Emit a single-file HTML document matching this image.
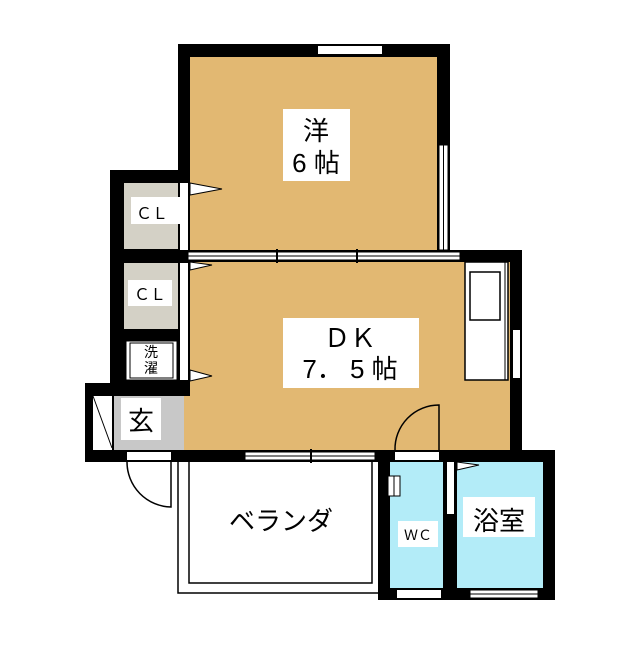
<!DOCTYPE html>
<html><head><meta charset="utf-8"><style>
body{margin:0;background:#fff}
svg text{font-family:"Liberation Sans","Noto Sans CJK JP",sans-serif;fill:#000}
</style></head><body>
<svg width="640" height="640" viewBox="0 0 640 640" xmlns="http://www.w3.org/2000/svg">
<!-- 洋 room -->
<rect x="178" y="44" width="272" height="218" fill="#000"/>
<rect x="190" y="57" width="247" height="193" fill="#e2b872"/>
<rect x="318" y="46" width="64" height="8" fill="#fff"/>
<rect x="439" y="145" width="9" height="105" fill="#fff" stroke="#000" stroke-width="1"/>
<line x1="443.5" y1="145" x2="443.5" y2="250" stroke="#000"/>
<!-- closets column -->
<rect x="110" y="170" width="80" height="220" fill="#000"/>
<rect x="124" y="183" width="54" height="66" fill="#d4d1c6"/>
<rect x="124" y="263" width="54" height="66" fill="#d4d1c6"/>
<rect x="126" y="341" width="51" height="39" fill="#fff" stroke="#000" stroke-width="1"/>
<rect x="130" y="343" width="43" height="35" fill="#fff" stroke="#000" stroke-width="1"/>
<rect x="180" y="183" width="8" height="67" fill="#fff"/>
<rect x="180" y="263" width="8" height="117" fill="#fff"/>
<!-- DK -->
<rect x="190" y="250" width="332" height="212" fill="#000"/>
<rect x="190" y="262" width="320" height="188" fill="#e2b872"/>
<rect x="188" y="252" width="272" height="8" fill="#fff" stroke="#000" stroke-width="1"/>
<line x1="188" y1="256" x2="460" y2="256" stroke="#000"/>
<line x1="277" y1="249" x2="277" y2="263" stroke="#000" stroke-width="2"/>
<line x1="357" y1="249" x2="357" y2="263" stroke="#000" stroke-width="2"/>
<rect x="465" y="262" width="43" height="118" fill="#fff" stroke="#000" stroke-width="1.5"/>
<line x1="505" y1="262" x2="505" y2="380" stroke="#000"/>
<rect x="470" y="272" width="30" height="48" fill="#fff" stroke="#000" stroke-width="1.5"/>
<rect x="513" y="330" width="7" height="48" fill="#fff"/>
<!-- door triangles -->
<polygon points="190,183 222,189 190,195" fill="#fff" stroke="#000"/>
<polygon points="190,262 212,265 190,270" fill="#fff" stroke="#000"/>
<polygon points="190,370 212,376 190,381" fill="#fff" stroke="#000"/>
<!-- entrance -->
<rect x="85" y="383" width="105" height="79" fill="#000"/>
<rect x="114" y="396" width="70" height="54" fill="#c8c8c8"/>
<rect x="93" y="396" width="19" height="54" fill="#fff"/>
<line x1="93" y1="396" x2="112" y2="448" stroke="#000"/>
<rect x="184" y="396" width="6" height="54" fill="#e2b872"/>
<!-- bottom wall -->
<rect x="85" y="450" width="470" height="12" fill="#000"/>
<rect x="127" y="452" width="44" height="8" fill="#fff"/>
<path d="M171 462 L171 507 A45 45 0 0 1 127 462" fill="none" stroke="#000" stroke-width="1.5"/>
<rect x="245" y="452" width="130" height="8" fill="#fff" stroke="#000" stroke-width="1"/>
<line x1="245" y1="456" x2="375" y2="456" stroke="#000"/>
<line x1="311" y1="449" x2="311" y2="463" stroke="#000" stroke-width="2"/>
<!-- veranda -->
<path d="M178 462 V593 H378" fill="none" stroke="#000" stroke-width="1.5"/>
<path d="M189 462 V583 H372 V462" fill="none" stroke="#000" stroke-width="1.5"/>
<!-- WC & bath -->
<rect x="378" y="450" width="177" height="150" fill="#000"/>
<rect x="390" y="462" width="53" height="126" fill="#b3ecf8"/>
<rect x="457" y="462" width="86" height="126" fill="#b3ecf8"/>
<rect x="395" y="452" width="44" height="8" fill="#fff"/>
<path d="M439 450 L439 405 A44 44 0 0 0 395 450" fill="none" stroke="#000" stroke-width="1.5"/>
<rect x="447" y="462" width="7" height="52" fill="#fff"/>
<polygon points="457,462 479,465 457,470" fill="#fff" stroke="#000"/>
<rect x="388" y="476" width="12" height="20" fill="#fff" stroke="#000"/>
<line x1="394" y1="476" x2="394" y2="496" stroke="#000"/>
<rect x="397" y="590" width="44" height="8" fill="#fff"/>
<rect x="470" y="590" width="68" height="8" fill="#fff" stroke="#000" stroke-width="1"/>
<line x1="470" y1="594" x2="538" y2="594" stroke="#000"/>
<!-- labels -->
<rect x="283" y="109" width="67" height="72" fill="#fff"/>
<text x="316" y="140" font-size="26" text-anchor="middle">洋</text>
<text x="316" y="172" font-size="26" text-anchor="middle">6 帖</text>
<rect x="283" y="318" width="136" height="70" fill="#fff"/>
<text x="350" y="347" font-size="26" text-anchor="middle">ＤＫ</text>
<text x="350" y="378" font-size="26" text-anchor="middle">7． 5 帖</text>
<rect x="131" y="197" width="54" height="27" fill="#fff"/>
<text x="152" y="219" font-size="16" text-anchor="middle">ＣＬ</text>
<rect x="128" y="280" width="44" height="26" fill="#fff"/>
<text x="150" y="300" font-size="16" text-anchor="middle">ＣＬ</text>
<text x="151" y="357" font-size="14" text-anchor="middle">洗</text>
<text x="151" y="373" font-size="14" text-anchor="middle">濯</text>
<rect x="121" y="398" width="40" height="42" fill="#fff"/>
<text x="141" y="430" font-size="26" text-anchor="middle">玄</text>
<text x="281" y="530" font-size="26" text-anchor="middle">ベランダ</text>
<rect x="398" y="521" width="40" height="26" fill="#fff"/>
<text x="418" y="540" font-size="14" text-anchor="middle">ＷＣ</text>
<rect x="463" y="497" width="72" height="40" fill="#fff"/>
<text x="499" y="530" font-size="26" text-anchor="middle">浴室</text>
</svg>
</body></html>
